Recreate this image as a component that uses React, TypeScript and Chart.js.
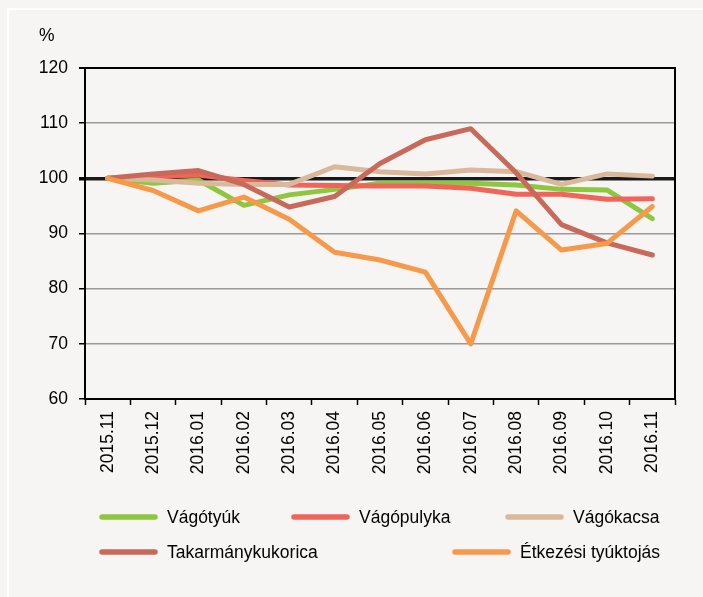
import React, { useEffect, useRef } from "react";
import { Chart, registerables } from "chart.js";

Chart.register(...registerables);

const labels = [
  "2015.11", "2015.12", "2016.01", "2016.02", "2016.03", "2016.04", "2016.05",
  "2016.06", "2016.07", "2016.08", "2016.09", "2016.10", "2016.11",
];

const vagotyuk = [100, 99.1, 99.7, 95.1, 97.0, 98.0, 99.1, 99.1, 99.1, 98.8, 98.0, 97.9, 92.7];
const vagopulyka = [100, 100.3, 100.6, 99.6, 98.8, 98.7, 98.6, 98.6, 98.2, 97.1, 97.1, 96.2, 96.3];
const vagokacsa = [100, 99.7, 99.1, 98.9, 98.9, 102.1, 101.2, 100.8, 101.5, 101.2, 98.9, 100.8, 100.4];
const takarmanykukorica = [100, 100.8, 101.4, 98.9, 94.8, 96.7, 102.7, 107.0, 109.0, 101.0, 91.6, 88.3, 86.1];
const etkezesiTyuktojas = [100, 97.8, 94.1, 96.6, 92.6, 86.6, 85.2, 83.0, 70.0, 94.1, 87.0, 88.2, 94.9];

const seriesNames = ["Vágótyúk", "Vágópulyka", "Vágókacsa", "Takarmánykukorica", "Étkezési tyúktojás"];
const seriesColors = ["#8dc63f", "#f0645a", "#d9b89c", "#c8695a", "#f7994a"];
const seriesValues = [vagotyuk, vagopulyka, vagokacsa, takarmanykukorica, etkezesiTyuktojas];

const yTicks = [60, 70, 80, 90, 100, 110, 120];
const yUnit = "%";

const FONT = "Liberation Sans, Arial, sans-serif";
const FONT_SIZE = 17.5;
const BG = "#f6f5f3";

// legend layout: [lineStartX, rowY]
const legendLayout = [
  [102, 517],
  [294, 517],
  [508, 517],
  [102, 552],
  [455, 552],
];

const backgroundPlugin = {
  id: "bgframe",
  beforeDraw(chart: any) {
    const { ctx, width, height } = chart;
    ctx.save();
    ctx.fillStyle = BG;
    ctx.fillRect(0, 0, width, height);
    ctx.fillStyle = "#ffffff";
    ctx.fillRect(7, 8, width - 7, 2);
    ctx.fillRect(7, 8, 2, height - 8);
    ctx.restore();
  },
  afterDraw(chart: any) {
    const { ctx, chartArea } = chart;
    ctx.save();
    ctx.strokeStyle = "#000";
    ctx.lineWidth = 2;
    ctx.beginPath();
    ctx.moveTo(chartArea.left, chartArea.top);
    ctx.lineTo(chartArea.right, chartArea.top);
    ctx.lineTo(chartArea.right, chartArea.bottom);
    ctx.stroke();
    ctx.fillStyle = "#000";
    ctx.font = `${FONT_SIZE}px ${FONT}`;
    ctx.textBaseline = "alphabetic";
    ctx.textAlign = "left";
    ctx.fillText(yUnit, 39, 41);
    chart.data.datasets.forEach((ds: any, i: number) => {
      const [x, y] = legendLayout[i];
      ctx.strokeStyle = ds.borderColor;
      ctx.lineWidth = 5.5;
      ctx.lineCap = "round";
      ctx.beginPath();
      ctx.moveTo(x, y);
      ctx.lineTo(x + 53, y);
      ctx.stroke();
      ctx.fillStyle = "#000";
      ctx.textBaseline = "middle";
      ctx.fillText(ds.label, x + 65, y + 1);
    });
    ctx.restore();
  },
};

export default function App() {
  const ref = useRef<HTMLCanvasElement>(null);
  useEffect(() => {
    if (!ref.current) return;
    const chart = new Chart(ref.current, {
      type: "line",
      data: {
        labels,
        datasets: seriesNames.map((name, i) => ({
          label: name,
          data: seriesValues[i],
          borderColor: seriesColors[i],
          backgroundColor: seriesColors[i],
          borderWidth: 5,
          pointRadius: 0,
          tension: 0,
          borderCapStyle: "round" as const,
          borderJoinStyle: "round" as const,
          order: seriesNames.length - i,
        })),
      },
      options: {
        animation: false,
        responsive: false,
        layout: { padding: { left: 0, top: 68, right: 28, bottom: 0 } },
        plugins: { legend: { display: false }, tooltip: { enabled: false } },
        scales: {
          x: {
            type: "category",
            offset: true,
            afterFit(scale: any) {
              scale.height = 597 - 399;
            },
            border: { display: true, color: "#000", width: 2 },
            grid: {
              offset: true,
              drawOnChartArea: false,
              drawTicks: true,
              tickLength: 6,
              tickColor: "#000",
              tickWidth: 1.5,
            },
            ticks: {
              minRotation: 90,
              maxRotation: 90,
              autoSkip: false,
              padding: 6,
              color: "#000",
              font: { family: FONT, size: FONT_SIZE },
            },
          },
          y: {
            min: 60,
            max: 120,
            afterFit(scale: any) {
              scale.width = 85;
            },
            afterBuildTicks(scale: any) {
              scale.ticks = yTicks.map((v) => ({ value: v }));
            },
            border: { display: true, color: "#000", width: 2 },
            grid: {
              drawTicks: true,
              tickLength: 6,
              tickColor: "#000",
              color: (c: any) => (c.tick && c.tick.value === 100 ? "#1a1a1a" : c.tick && c.tick.value === 120 ? "#000" : "#9a9a9a"),
              lineWidth: (c: any) => (c.tick && c.tick.value === 100 ? 3.5 : c.tick && c.tick.value === 120 ? 2 : 1.5),
            },
            ticks: {
              padding: 11,
              color: "#000",
              font: { family: FONT, size: FONT_SIZE },
            },
          },
        },
      },
      plugins: [backgroundPlugin],
    });
    return () => chart.destroy();
  }, []);
  return (
    <div style={{ position: "fixed", left: 0, top: 0, width: 703, height: 597, background: BG }}>
      <canvas ref={ref} width={703} height={597} style={{ display: "block" }} />
    </div>
  );
}
